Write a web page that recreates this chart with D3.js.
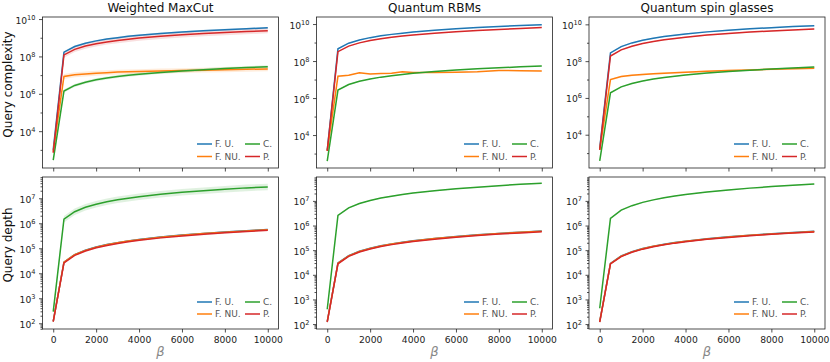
<!DOCTYPE html>
<html>
<head>
<meta charset="utf-8">
<script src="https://cdn.jsdelivr.net/npm/d3@7"></script>
<style>
  body { margin: 0; background: #fff; }
  text { font-family: "DejaVu Sans", sans-serif; }
</style>
</head>
<body>
<svg id="chart" width="830" height="362"></svg>
<script>
// beta grid shared by every panel
const betas = [0, 500, 1000, 1500, 2000, 2500, 3000, 3500, 4000, 5000, 6000, 7000, 8000, 9000, 10000];
const xTicks = [0, 2000, 4000, 6000, 8000, 10000];

const seriesNames = ["F. U.", "F. NU.", "C.", "P."];
const colors = ["#1f77b4", "#ff7f0e", "#2ca02c", "#d62728"];
const titles = ["Weighted MaxCut", "Quantum RBMs", "Quantum spin glasses"];
const rowLabels = ["Query complexity", "Query depth"];

// query complexity (top row)
const maxcutCxFU  = [1.0e3, 1.7e8, 3.4e8, 5.1e8, 6.8e8, 8.5e8, 1.0e9, 1.2e9, 1.35e9, 1.7e9, 2.0e9, 2.4e9, 2.7e9, 3.0e9, 3.4e9];
const maxcutCxFNU = [8e2, 8.5e6, 1.05e7, 1.15e7, 1.25e7, 1.35e7, 1.45e7, 1.5e7, 1.55e7, 1.65e7, 1.75e7, 1.85e7, 1.95e7, 2.05e7, 2.15e7];
const maxcutCxC   = [2.8e2, 1.4e6, 2.8e6, 4.2e6, 5.6e6, 7.0e6, 8.4e6, 9.8e6, 1.12e7, 1.4e7, 1.68e7, 1.96e7, 2.24e7, 2.52e7, 2.8e7];
const maxcutCxP   = [7e2, 1.2e8, 2.4e8, 3.6e8, 4.8e8, 6.0e8, 7.2e8, 8.4e8, 9.6e8, 1.2e9, 1.45e9, 1.7e9, 1.9e9, 2.15e9, 2.4e9];

const rbmCxFU  = [1.5e3, 4.6e8, 9.2e8, 1.38e9, 1.84e9, 2.3e9, 2.76e9, 3.22e9, 3.68e9, 4.6e9, 5.5e9, 6.4e9, 7.4e9, 8.3e9, 9.2e9];
const rbmCxFNU = [1.4e3, 1.5e7, 1.7e7, 2.3e7, 2.0e7, 2.1e7, 2.2e7, 2.6e7, 2.4e7, 2.4e7, 2.5e7, 2.6e7, 3.1e7, 3.0e7, 2.9e7];
const rbmCxC   = [3.9e2, 2.7e6, 5.4e6, 8.1e6, 1.08e7, 1.35e7, 1.62e7, 1.89e7, 2.16e7, 2.7e7, 3.24e7, 3.78e7, 4.32e7, 4.86e7, 5.4e7];
const rbmCxP   = [1.4e3, 3.2e8, 6.4e8, 9.6e8, 1.28e9, 1.6e9, 1.92e9, 2.24e9, 2.56e9, 3.2e9, 3.84e9, 4.5e9, 5.1e9, 5.8e9, 6.4e9];

const spinCxFU  = [1.8e3, 2.8e8, 6.2e8, 9.8e8, 1.38e9, 1.78e9, 2.19e9, 2.57e9, 3.0e9, 3.9e9, 4.8e9, 5.75e9, 6.6e9, 7.6e9, 8.5e9];
const spinCxFNU = [1.5e3, 1.0e7, 1.45e7, 1.7e7, 1.9e7, 2.05e7, 2.2e7, 2.35e7, 2.5e7, 2.8e7, 3.1e7, 3.35e7, 3.6e7, 3.85e7, 4.1e7];
const spinCxC   = [3.8e2, 1.9e6, 4.0e6, 6.1e6, 8.3e6, 1.07e7, 1.29e7, 1.51e7, 1.78e7, 2.24e7, 2.75e7, 3.24e7, 3.7e7, 4.25e7, 4.8e7];
const spinCxP   = [1.5e3, 1.9e8, 4.1e8, 6.5e8, 9.1e8, 1.17e9, 1.45e9, 1.7e9, 2.0e9, 2.6e9, 3.2e9, 3.8e9, 4.4e9, 5.0e9, 5.6e9];

// query depth (bottom row)
const maxcutDpFU  = [1.2e2, 2.8e4, 5.6e4, 8.4e4, 1.12e5, 1.4e5, 1.68e5, 1.96e5, 2.24e5, 2.8e5, 3.36e5, 3.9e5, 4.5e5, 5.0e5, 5.6e5];
const maxcutDpFNU = [1.2e2, 2.75e4, 5.5e4, 8.25e4, 1.1e5, 1.38e5, 1.65e5, 1.93e5, 2.2e5, 2.75e5, 3.3e5, 3.85e5, 4.4e5, 4.95e5, 5.5e5];
const maxcutDpC   = [2.9e2, 1.45e6, 2.9e6, 4.35e6, 5.8e6, 7.25e6, 8.7e6, 1.0e7, 1.16e7, 1.45e7, 1.74e7, 2.0e7, 2.3e7, 2.6e7, 2.8e7];
const maxcutDpP   = [1.15e2, 2.6e4, 5.2e4, 7.8e4, 1.04e5, 1.3e5, 1.56e5, 1.82e5, 2.08e5, 2.6e5, 3.1e5, 3.6e5, 4.15e5, 4.7e5, 5.2e5];

const rbmDpFU  = [1.25e2, 3.0e4, 6.0e4, 9.0e4, 1.2e5, 1.5e5, 1.8e5, 2.1e5, 2.4e5, 3.0e5, 3.6e5, 4.2e5, 4.8e5, 5.4e5, 6.0e5];
const rbmDpFNU = [1.25e2, 2.95e4, 5.9e4, 8.85e4, 1.18e5, 1.48e5, 1.77e5, 2.07e5, 2.36e5, 2.95e5, 3.54e5, 4.13e5, 4.72e5, 5.3e5, 5.9e5];
const rbmDpC   = [4e2, 2.6e6, 5.2e6, 7.8e6, 1.04e7, 1.3e7, 1.56e7, 1.82e7, 2.08e7, 2.6e7, 3.1e7, 3.6e7, 4.15e7, 4.7e7, 5.2e7];
const rbmDpP   = [1.2e2, 2.8e4, 5.6e4, 8.4e4, 1.12e5, 1.4e5, 1.68e5, 1.96e5, 2.24e5, 2.8e5, 3.36e5, 3.9e5, 4.5e5, 5.0e5, 5.6e5];

const spinDpFU  = [1.25e2, 2.9e4, 5.8e4, 8.7e4, 1.16e5, 1.45e5, 1.74e5, 2.03e5, 2.32e5, 2.9e5, 3.48e5, 4.06e5, 4.64e5, 5.2e5, 5.8e5];
const spinDpFNU = [1.25e2, 2.85e4, 5.7e4, 8.55e4, 1.14e5, 1.43e5, 1.71e5, 2.0e5, 2.28e5, 2.85e5, 3.42e5, 4.0e5, 4.56e5, 5.13e5, 5.7e5];
const spinDpC   = [4.4e2, 1.95e6, 4.2e6, 6.4e6, 8.7e6, 1.1e7, 1.35e7, 1.58e7, 1.82e7, 2.3e7, 2.8e7, 3.3e7, 3.8e7, 4.3e7, 4.8e7];
const spinDpP   = [1.2e2, 2.75e4, 5.5e4, 8.25e4, 1.1e5, 1.38e5, 1.65e5, 1.93e5, 2.2e5, 2.75e5, 3.3e5, 3.85e5, 4.4e5, 4.95e5, 5.5e5];

// width of the shaded spread around each line (multiplicative factor)
const spreadMaxcutCx = [1.12, 1.35, 1.2, 1.4];
const spreadRbmCx    = [1.05, 1.05, 1.05, 1.05];
const spreadSpinCx   = [1.08, 1.12, 1.08, 1.08];
const spreadMaxcutDp = [1.08, 1.08, 1.35, 1.08];
const spreadRbmDp    = [1.05, 1.05, 1.05, 1.05];
const spreadSpinDp   = [1.05, 1.05, 1.05, 1.05];

// layout
const colX = [[42.5, 278.5], [316.5, 552.5], [589, 825]];
const rowY = [[17, 168], [177, 329]];
const legendRight = [270, 537, 807];
const legendRows = [[-24, -11.5], [-27, -15]];

const panels = [
  {row: 0, col: 0, series: [maxcutCxFU, maxcutCxFNU, maxcutCxC, maxcutCxP], spread: spreadMaxcutCx, yExp: [2.03, 10.11]},
  {row: 0, col: 1, series: [rbmCxFU, rbmCxFNU, rbmCxC, rbmCxP], spread: spreadRbmCx, yExp: [2.22, 10.38]},
  {row: 0, col: 2, series: [spinCxFU, spinCxFNU, spinCxC, spinCxP], spread: spreadSpinCx, yExp: [2.19, 10.40]},
  {row: 1, col: 0, series: [maxcutDpFU, maxcutDpFNU, maxcutDpC, maxcutDpP], spread: spreadMaxcutDp, yExp: [1.77, 7.85]},
  {row: 1, col: 1, series: [rbmDpFU, rbmDpFNU, rbmDpC, rbmDpP], spread: spreadRbmDp, yExp: [1.80, 7.97]},
  {row: 1, col: 2, series: [spinDpFU, spinDpFNU, spinDpC, spinDpP], spread: spreadSpinDp, yExp: [1.80, 7.97]}
];

const svg = d3.select("#chart");
const ink = "#222";

panels.forEach((p, pi) => {
  const [x0, x1] = colX[p.col];
  const [y0, y1] = rowY[p.row];
  const x = d3.scaleLinear().domain([-500, 10500]).range([x0, x1]);
  const y = d3.scaleLog().domain([10 ** p.yExp[0], 10 ** p.yExp[1]]).range([y1, y0]);

  const g = svg.append("g");
  const clipId = "clip" + pi;
  g.append("clipPath").attr("id", clipId)
    .append("rect").attr("x", x0).attr("y", y0).attr("width", x1 - x0).attr("height", y1 - y0);
  const plot = g.append("g").attr("clip-path", `url(#${clipId})`);

  const band = (vals, s) => d3.area()
    .x((d, i) => x(betas[i]))
    .y0((d, i) => y(vals[i] / s))
    .y1((d, i) => y(vals[i] * s))(vals);
  const line = d3.line().x((d, i) => x(betas[i])).y(d => y(d));

  p.series.forEach((vals, si) => {
    plot.append("path").attr("d", band(vals, p.spread[si]))
      .attr("fill", colors[si]).attr("fill-opacity", 0.15).attr("stroke", "none");
  });
  p.series.forEach((vals, si) => {
    plot.append("path").attr("d", line(vals))
      .attr("fill", "none").attr("stroke", colors[si]).attr("stroke-width", 1.5);
  });

  // y axis: majors, minors
  const lo = Math.ceil(p.yExp[0]), hi = Math.floor(p.yExp[1]);
  let majors, minors = [];
  if (p.row === 0) {
    majors = d3.range(lo, hi + 1).filter(e => e % 2 === 0).map(e => 10 ** e);
    minors = d3.range(lo, hi + 1).filter(e => e % 2 !== 0).map(e => 10 ** e);
  } else {
    majors = d3.range(lo, hi + 1).map(e => 10 ** e);
    d3.range(lo - 1, hi + 1).forEach(e => {
      for (let k = 2; k <= 9; k++) {
        const v = k * 10 ** e;
        if (v >= 10 ** p.yExp[0] && v <= 10 ** p.yExp[1]) minors.push(v);
      }
    });
  }

  const yMinor = g.append("g").attr("transform", `translate(${x0},0)`)
    .call(d3.axisLeft(y).tickValues(minors).tickSize(2).tickFormat(""));
  const yMajor = g.append("g").attr("transform", `translate(${x0},0)`)
    .call(d3.axisLeft(y).tickValues(majors).tickSize(3.5).tickPadding(3.5).tickFormat(""));
  [yMinor, yMajor].forEach(a => {
    a.select(".domain").remove();
    a.selectAll(".tick line").attr("stroke", ink).attr("stroke-width", 0.8);
  });
  yMajor.selectAll(".tick text").each(function (d) {
    const t = d3.select(this).attr("dy", null).attr("y", 4).attr("x", -7)
      .attr("fill", ink).attr("font-size", 9.2).attr("text-anchor", "end");
    t.append("tspan").text("10");
    t.append("tspan").attr("dy", -4).attr("font-size", 6.6).text(Math.round(Math.log10(d)));
  });

  // x axis
  const xa = g.append("g").attr("transform", `translate(0,${y1})`)
    .call(d3.axisBottom(x).tickValues(xTicks).tickSize(3.5).tickPadding(3.5)
      .tickFormat(p.row === 1 ? d3.format("d") : ""));
  xa.select(".domain").remove();
  xa.selectAll(".tick line").attr("stroke", ink).attr("stroke-width", 0.8);
  xa.selectAll(".tick text").attr("fill", ink).attr("font-size", 9.2)
    .attr("font-family", "DejaVu Sans");

  // frame
  g.append("rect").attr("x", x0).attr("y", y0).attr("width", x1 - x0).attr("height", y1 - y0)
    .attr("fill", "none").attr("stroke", ink).attr("stroke-width", 0.8);

  // legend, two columns
  const lr = legendRight[p.col];
  const rows = legendRows[p.row];
  const legend = g.append("g");
  seriesNames.forEach((name, si) => {
    const c = Math.floor(si / 2), r = si % 2;
    const hx = c === 0 ? lr - 73 : lr - 25;
    const ly = y1 + rows[r];
    legend.append("line").attr("x1", hx).attr("x2", hx + 15).attr("y1", ly).attr("y2", ly)
      .attr("stroke", colors[si]).attr("stroke-width", 1.5);
    legend.append("text").attr("x", hx + 18).attr("y", ly).attr("dy", "0.35em")
      .attr("font-size", 9).attr("fill", "#555").attr("font-family", "Lato, sans-serif").text(name);
  });

  if (p.row === 0) {
    g.append("text").attr("x", (x0 + x1) / 2).attr("y", 12).attr("text-anchor", "middle")
      .attr("font-family", "Lato, sans-serif").attr("font-size", 12).attr("fill", "#111")
      .text(titles[p.col]);
  } else {
    g.append("text").attr("x", (x0 + x1) / 2).attr("y", 356).attr("text-anchor", "middle")
      .attr("font-family", "DejaVu Serif, serif").attr("font-style", "italic")
      .attr("font-size", 13).attr("fill", "#888").text("β");
  }
  if (p.col === 0) {
    const cy = (y0 + y1) / 2 - 8;
    g.append("text").attr("transform", `translate(12,${cy}) rotate(-90)`)
      .attr("text-anchor", "middle").attr("font-family", "Lato, sans-serif")
      .attr("font-size", 12).attr("fill", "#111").text(rowLabels[p.row]);
  }
});
</script>
</body>
</html>
